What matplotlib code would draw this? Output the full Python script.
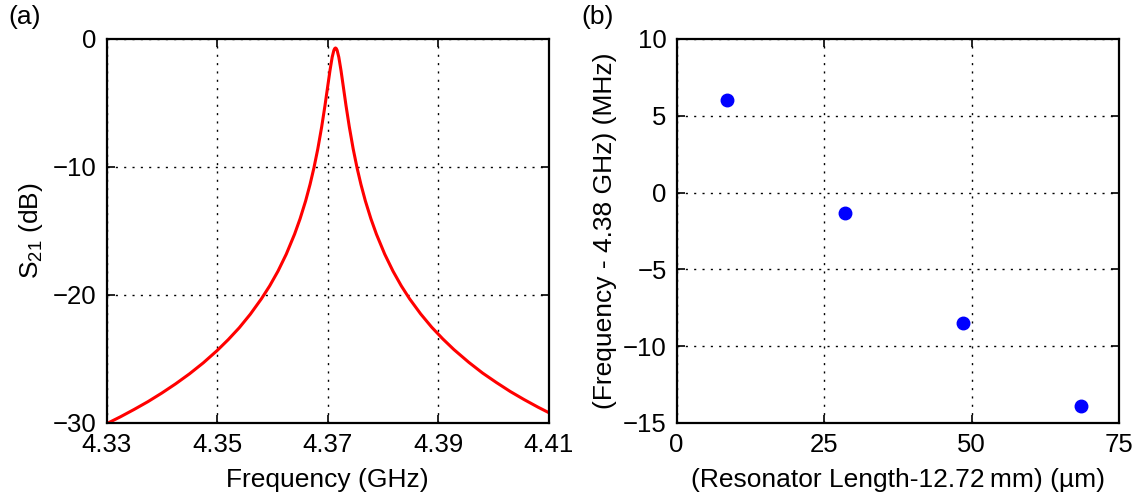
import matplotlib
matplotlib.use("Agg")
import matplotlib.pyplot as plt
from matplotlib.ticker import FixedLocator

plt.rcParams['font.family'] = ['Liberation Sans', 'DejaVu Sans']
plt.rcParams['mathtext.fontset'] = 'custom'
plt.rcParams['mathtext.rm'] = 'Liberation Sans'
plt.rcParams['mathtext.it'] = 'Liberation Sans:italic'

# Panel (a): transmission spectrum
freq_ghz = [4.3300, 4.3325, 4.3350, 4.3375, 4.3400, 4.3425, 4.3450, 4.3475,
            4.3500, 4.3520, 4.3540, 4.3560, 4.3580, 4.3595, 4.3610, 4.3625,
            4.3640, 4.3650, 4.3660, 4.3668, 4.3675, 4.3682, 4.3689, 4.3695,
            4.3700, 4.3704, 4.3708, 4.3711, 4.37125, 4.3714, 4.37155, 4.3717,
            4.3720, 4.3724, 4.3728, 4.3733, 4.3739, 4.3746, 4.3753, 4.3760,
            4.3768, 4.3778, 4.3788, 4.3803, 4.3818, 4.3833, 4.3848, 4.3868,
            4.3888, 4.3908, 4.3928, 4.3955, 4.3980, 4.4005, 4.4030, 4.4055,
            4.4080, 4.4100]
s21_db = [-30.06, -29.52, -28.94, -28.33, -27.66, -26.94, -26.16, -25.30,
          -24.34, -23.49, -22.56, -21.50, -20.30, -19.29, -18.14, -16.81,
          -15.25, -14.04, -12.65, -11.36, -10.07, -8.59, -6.87, -5.20,
          -3.68, -2.47, -1.42, -0.89, -0.75, -0.70, -0.75, -0.89,
          -1.42, -2.47, -3.68, -5.20, -6.87, -8.59, -10.07, -11.36,
          -12.65, -14.04, -15.25, -16.81, -18.14, -19.29, -20.30, -21.48,
          -22.52, -23.43, -24.26, -25.26, -26.10, -26.84, -27.54, -28.17,
          -28.76, -29.20]
a_xticks = [4.33, 4.35, 4.37, 4.39, 4.41]
a_xticklabels = ["4.33", "4.35", "4.37", "4.39", "4.41"]
a_yticks = [-30, -20, -10, 0]
a_yticklabels = ["\u221230", "\u221220", "\u221210", "0"]

# Panel (b): frequency shift vs resonator length
length_um = [8.5, 28.5, 48.5, 68.5]
shift_mhz = [6.0, -1.3, -8.5, -13.9]
b_xticks = [0, 25, 50, 75]
b_xticklabels = ["0", "25", "50", "75"]
b_yticks = [-15, -10, -5, 0, 5, 10]
b_yticklabels = ["\u221215", "\u221210", "\u22125", "0", "5", "10"]

W, H = 1147, 503
fig = plt.figure(figsize=(W / 100, H / 100), dpi=100)
ax1 = fig.add_axes([106.5 / W, (H - 423) / H, 442.5 / W, 384 / H])
ax2 = fig.add_axes([676.5 / W, (H - 423) / H, 442.5 / W, 384 / H])

TICK_FS = 18.5
LABEL_FS = 19

def style(ax):
    for sp in ax.spines.values():
        sp.set_linewidth(1.6)
        sp.set_color('black')
    ax.tick_params(direction='in', top=True, right=True, length=6, width=1.2,
                   labelsize=TICK_FS, pad=7, colors='black')
    ax.grid(True, color='black', linestyle=(0, (1.5, 4.5)), linewidth=1.0)
    ax.set_axisbelow(True)

ax1.plot(freq_ghz, s21_db, color='#ff0000', linewidth=2.2,
         solid_joinstyle='round', solid_capstyle='round')
ax1.set_xlim(4.33, 4.41)
ax1.set_ylim(-30, 0)
ax1.xaxis.set_major_locator(FixedLocator(a_xticks))
ax1.set_xticklabels(a_xticklabels)
ax1.yaxis.set_major_locator(FixedLocator(a_yticks))
ax1.set_yticklabels(a_yticklabels)
style(ax1)
ax1.set_xlabel("Frequency (GHz)", fontsize=LABEL_FS, labelpad=8)
ax1.set_ylabel(r"S$_{\mathrm{21}}$ (dB)", fontsize=LABEL_FS, labelpad=6)

ax2.plot(length_um, shift_mhz, linestyle='none', marker='o', markersize=9,
         color='#0000ff', markeredgecolor='#0000ff')
ax2.set_xlim(0, 75)
ax2.set_ylim(-15, 10)
ax2.xaxis.set_major_locator(FixedLocator(b_xticks))
ax2.set_xticklabels(b_xticklabels)
ax2.yaxis.set_major_locator(FixedLocator(b_yticks))
ax2.set_yticklabels(b_yticklabels)
style(ax2)
ax2.set_xlabel("(Resonator Length-12.72\u2009mm) (\u00b5m)", fontsize=LABEL_FS, labelpad=8)
ax2.set_ylabel("(Frequency - 4.38 GHz) (MHz)", fontsize=LABEL_FS, labelpad=4)

fig.text(8 / W, 1 - 17 / H, "(a)", fontsize=LABEL_FS, va='center', ha='left')
fig.text(581 / W, 1 - 17 / H, "(b)", fontsize=LABEL_FS, va='center', ha='left')

fig.savefig("out.png", dpi=100)
